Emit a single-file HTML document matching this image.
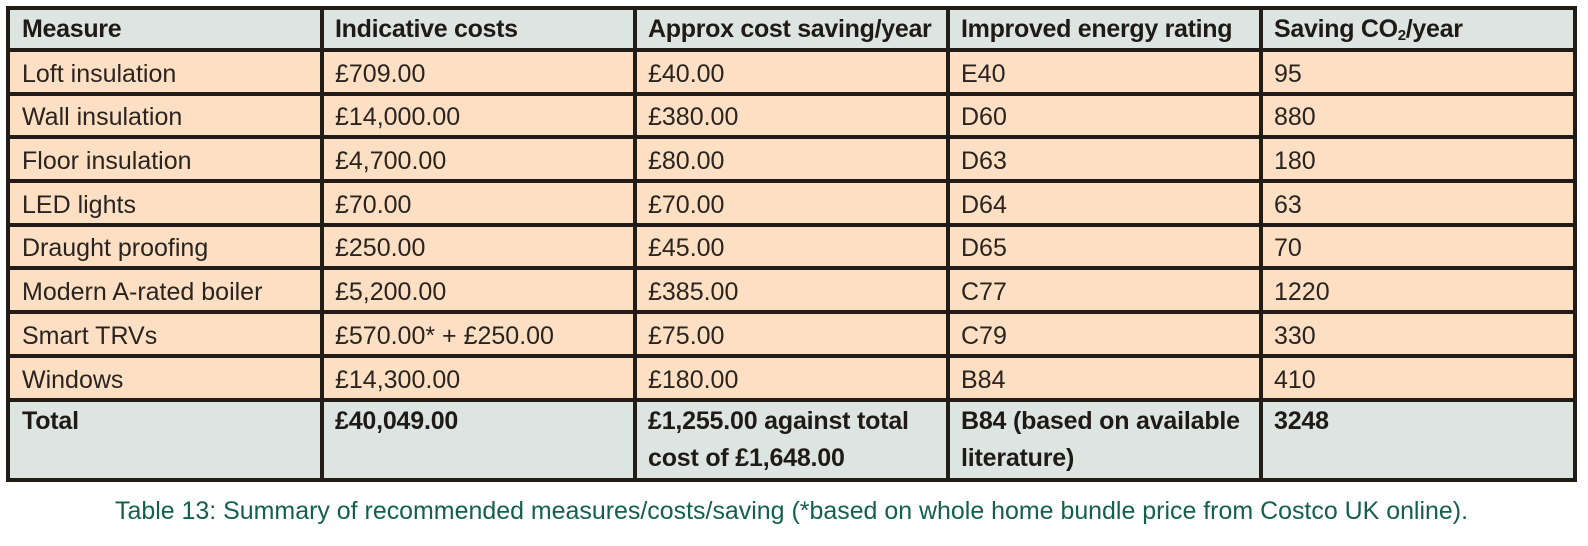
<!DOCTYPE html>
<html>
<head>
<meta charset="utf-8">
<style>
  html,body{margin:0;padding:0;background:#ffffff;}
  body{width:1588px;height:546px;position:relative;overflow:hidden;
       font-family:"Liberation Sans", Arial, sans-serif;}
  .frame{position:absolute;left:6px;top:6px;width:1571px;height:476px;background:#221c19;}
  .c{position:absolute;box-sizing:border-box;padding-left:11px;white-space:nowrap;
     font-size:25px;color:#2a2320;overflow:hidden;}
  .h{background:#dde5e2;font-weight:bold;color:#1f1a17;letter-spacing:-0.3px;}
  .b{background:#fde0c3;}
  .b span{position:relative;top:2px;}
  .t{background:#dde5e2;font-weight:bold;color:#1f1a17;line-height:37px;padding-top:1px;letter-spacing:-0.2px;}
  .c1{left:10px;width:310px;padding-left:12px;}
  .c2{left:324px;width:309px;}
  .c3{left:637px;width:309px;}
  .c4{left:950px;width:309px;}
  .c5{left:1263px;width:310px;}
  .rh{top:10px;height:38px;line-height:38px;}
  .r1{top:52px;height:40px;line-height:40px;}
  .r2{top:96px;height:39px;line-height:39px;}
  .r3{top:139px;height:40px;line-height:40px;}
  .r4{top:183px;height:40px;line-height:40px;}
  .r5{top:227px;height:39px;line-height:39px;}
  .r6{top:270px;height:40px;line-height:40px;}
  .r7{top:314px;height:40px;line-height:40px;}
  .r8{top:358px;height:40px;line-height:40px;}
  .rt{top:402px;height:76px;}
  sub{font-size:15px;line-height:0;position:relative;top:3px;vertical-align:baseline;}
  .cap{position:absolute;left:0;top:0;}
</style>
</head>
<body>
<div class="frame"></div>

<!-- header -->
<div class="c h c1 rh">Measure</div>
<div class="c h c2 rh">Indicative costs</div>
<div class="c h c3 rh">Approx cost saving/year</div>
<div class="c h c4 rh">Improved energy rating</div>
<div class="c h c5 rh">Saving CO<sub>2</sub>/year</div>

<!-- rows -->
<div class="c b c1 r1"><span>Loft insulation</span></div>
<div class="c b c2 r1"><span>£709.00</span></div>
<div class="c b c3 r1"><span>£40.00</span></div>
<div class="c b c4 r1"><span>E40</span></div>
<div class="c b c5 r1"><span>95</span></div>

<div class="c b c1 r2"><span>Wall insulation</span></div>
<div class="c b c2 r2"><span>£14,000.00</span></div>
<div class="c b c3 r2"><span>£380.00</span></div>
<div class="c b c4 r2"><span>D60</span></div>
<div class="c b c5 r2"><span>880</span></div>

<div class="c b c1 r3"><span>Floor insulation</span></div>
<div class="c b c2 r3"><span>£4,700.00</span></div>
<div class="c b c3 r3"><span>£80.00</span></div>
<div class="c b c4 r3"><span>D63</span></div>
<div class="c b c5 r3"><span>180</span></div>

<div class="c b c1 r4"><span>LED lights</span></div>
<div class="c b c2 r4"><span>£70.00</span></div>
<div class="c b c3 r4"><span>£70.00</span></div>
<div class="c b c4 r4"><span>D64</span></div>
<div class="c b c5 r4"><span>63</span></div>

<div class="c b c1 r5"><span>Draught proofing</span></div>
<div class="c b c2 r5"><span>£250.00</span></div>
<div class="c b c3 r5"><span>£45.00</span></div>
<div class="c b c4 r5"><span>D65</span></div>
<div class="c b c5 r5"><span>70</span></div>

<div class="c b c1 r6"><span>Modern A-rated boiler</span></div>
<div class="c b c2 r6"><span>£5,200.00</span></div>
<div class="c b c3 r6"><span>£385.00</span></div>
<div class="c b c4 r6"><span>C77</span></div>
<div class="c b c5 r6"><span>1220</span></div>

<div class="c b c1 r7"><span>Smart TRVs</span></div>
<div class="c b c2 r7"><span>£570.00* + £250.00</span></div>
<div class="c b c3 r7"><span>£75.00</span></div>
<div class="c b c4 r7"><span>C79</span></div>
<div class="c b c5 r7"><span>330</span></div>

<div class="c b c1 r8"><span>Windows</span></div>
<div class="c b c2 r8"><span>£14,300.00</span></div>
<div class="c b c3 r8"><span>£180.00</span></div>
<div class="c b c4 r8"><span>B84</span></div>
<div class="c b c5 r8"><span>410</span></div>

<!-- total -->
<div class="c t c1 rt">Total</div>
<div class="c t c2 rt">£40,049.00</div>
<div class="c t c3 rt">£1,255.00 against total<br>cost of £1,648.00</div>
<div class="c t c4 rt">B84 (based on available<br>literature)</div>
<div class="c t c5 rt">3248</div>

<!-- caption -->
<svg class="cap" width="1588" height="546" xmlns="http://www.w3.org/2000/svg">
  <text x="115" y="519" font-family="Liberation Sans, Arial, sans-serif" font-size="25" fill="#13604b" textLength="1353" lengthAdjust="spacingAndGlyphs">Table 13: Summary of recommended measures/costs/saving (*based on whole home bundle price from Costco UK online).</text>
</svg>
</body>
</html>
